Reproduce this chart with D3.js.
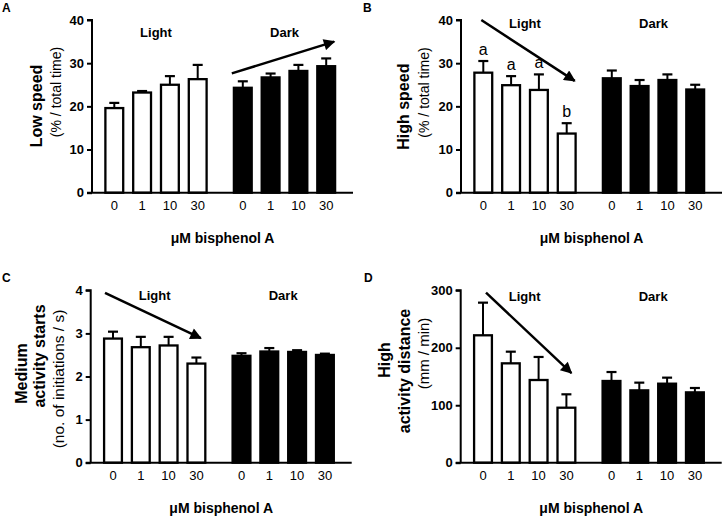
<!DOCTYPE html>
<html>
<head>
<meta charset="utf-8">
<script src="https://cdn.jsdelivr.net/npm/d3@7"></script>
<style>
  html, body { margin: 0; padding: 0; background: #fff; }
  svg { display: block; font-family: "Liberation Sans", Arial, Helvetica, sans-serif; }
</style>
</head>
<body>
<svg id="chart" width="723" height="516"></svg>
<script>
// ---------------- data ----------------
const doses = ["0", "1", "10", "30"];
const groups = ["Light", "Dark"];
const xAxisTitle = "μM bisphenol A";

// Panel A: Low speed (% / total time)
const lowSpeedLight    = [19.6, 23.2, 25.0, 26.3];
const lowSpeedLightErr = [1.2, 0.35, 2.0, 3.3];
const lowSpeedDark     = [24.3, 26.7, 28.2, 29.3];
const lowSpeedDarkErr  = [1.5, 0.9, 1.4, 1.8];
const ticksA = [0, 10, 20, 30, 40];

// Panel B: High speed (% / total time)
const highSpeedLight    = [27.8, 24.9, 23.8, 13.7];
const highSpeedLightErr = [2.7, 2.1, 3.6, 2.4];
const highSpeedDark     = [26.5, 24.7, 26.1, 23.9];
const highSpeedDarkErr  = [1.8, 1.4, 1.3, 1.1];
const highSpeedLetters  = ["a", "a", "a", "b"];
const ticksB = [0, 10, 20, 30, 40];

// Panel C: Medium activity starts (no. of initiations / s)
const startsLight    = [2.88, 2.68, 2.72, 2.30];
const startsLightErr = [0.16, 0.24, 0.20, 0.14];
const startsDark     = [2.48, 2.58, 2.57, 2.50];
const startsDarkErr  = [0.06, 0.08, 0.04, 0.03];
const ticksC = [0, 1, 2, 3, 4];

// Panel D: High activity distance (mm / min)
const distLight    = [221.7, 172.9, 143.9, 95.7];
const distLightErr = [56.8, 20.3, 40.1, 23.3];
const distDark     = [142.2, 125.9, 137.5, 122.4];
const distDarkErr  = [15.6, 13.4, 10.5, 7.6];
const ticksD = [0, 100, 200, 300];

// Trend arrows: [group, dose, offset in bar widths, value] start -> end
const arrowA = [["Dark", "0", -0.55, 27.65], ["Dark", "30", 0.4, 35.0]];
const arrowB = [["Light", "0", -0.1, 40.0], ["Light", "30", 0.4, 25.9]];
const arrowC = [["Light", "0", -0.4, 3.94], ["Light", "30", 0.22, 2.89]];
const arrowD = [["Light", "0", 0.15, 295.8], ["Light", "30", 0.25, 156]];

// ---------------- layout ----------------
const panels = [
  { letter: "A", lx: 2, ly: 11.5, axisX: 92, top: 20, bottom: 192.7, max: 40, ticks: ticksA,
    light: lowSpeedLight, lightErr: lowSpeedLightErr, dark: lowSpeedDark, darkErr: lowSpeedDarkErr,
    arrow: arrowA, groupLabelDy: 17,
    ylab: [ { t: "Low speed", bold: true, size: 16, dx: -50, cy: 106 },
            { t: "(% / total time)", bold: false, size: 14, dx: -31, cy: 92 } ] },
  { letter: "B", lx: 363, ly: 11.5, axisX: 461, top: 20, bottom: 192.7, max: 40, ticks: ticksB,
    light: highSpeedLight, lightErr: highSpeedLightErr, dark: highSpeedDark, darkErr: highSpeedDarkErr,
    arrow: arrowB, groupLabelDy: 8, letters: highSpeedLetters,
    ylab: [ { t: "High speed", bold: true, size: 16, dx: -52.5, cy: 106.7 },
            { t: "(% / total time)", bold: false, size: 14, dx: -32, cy: 92.5 } ] },
  { letter: "C", lx: 2, ly: 281.5, axisX: 90.7, top: 290.3, bottom: 462.7, max: 4, ticks: ticksC,
    light: startsLight, lightErr: startsLightErr, dark: startsDark, darkErr: startsDarkErr,
    arrow: arrowC, groupLabelDy: 10,
    ylab: [ { t: "Medium", bold: true, size: 16, dx: -64, cy: 373.5 },
            { t: "activity starts", bold: true, size: 16, dx: -46, cy: 356 },
            { t: "(no. of initiations / s)", bold: false, size: 15.5, dx: -27, cy: 379 } ] },
  { letter: "D", lx: 364, ly: 281.5, axisX: 460.7, top: 290.3, bottom: 462.7, max: 300, ticks: ticksD,
    light: distLight, lightErr: distLightErr, dark: distDark, darkErr: distDarkErr,
    arrow: arrowD, groupLabelDy: 11,
    ylab: [ { t: "High", bold: true, size: 16, dx: -71, cy: 360 },
            { t: "activity distance", bold: true, size: 16, dx: -51, cy: 371 },
            { t: "(mm / min)", bold: false, size: 15, dx: -32, cy: 353.5 } ] }
];

const plotW = 261;
const svg = d3.select("#chart");

svg.append("defs").append("marker")
  .attr("id", "head").attr("viewBox", "0 0 10 10")
  .attr("refX", 9).attr("refY", 5)
  .attr("markerWidth", 5.4).attr("markerHeight", 4.6)
  .attr("markerUnits", "strokeWidth").attr("orient", "auto")
  .append("path").attr("d", "M0,0 L10,5 L0,10 Z").attr("fill", "#000");

panels.forEach(p => {
  const g = svg.append("g");
  const x0 = p.axisX;
  const gx = d3.scalePoint().domain(groups).range([x0 + 64, x0 + 192.5]);
  const bx = d3.scaleBand().domain(doses).range([-55.6, 55.6]).paddingInner(0.28).paddingOuter(0.14);
  const y = d3.scaleLinear().domain([0, p.max]).range([p.bottom, p.top]);
  const bw = bx.bandwidth();
  const cx = (grp, d) => gx(grp) + bx(d) + bw / 2;

  // panel letter
  g.append("text").attr("x", p.lx).attr("y", p.ly)
    .attr("font-size", 12).attr("font-weight", "bold").text(p.letter);

  // bars
  const rows = [];
  groups.forEach(grp => doses.forEach((d, i) => {
    const v = grp === "Light" ? p.light[i] : p.dark[i];
    const e = grp === "Light" ? p.lightErr[i] : p.darkErr[i];
    rows.push({ grp, d, v, e, i });
  }));

  // error bars (upper only)
  g.selectAll(".err").data(rows).join("line")
    .attr("x1", r => cx(r.grp, r.d)).attr("x2", r => cx(r.grp, r.d))
    .attr("y1", r => y(r.v)).attr("y2", r => y(r.v + r.e))
    .attr("stroke", "#000").attr("stroke-width", 2);
  g.selectAll(".cap").data(rows).join("line")
    .attr("x1", r => cx(r.grp, r.d) - 5).attr("x2", r => cx(r.grp, r.d) + 5)
    .attr("y1", r => y(r.v + r.e)).attr("y2", r => y(r.v + r.e))
    .attr("stroke", "#000").attr("stroke-width", 2.2);

  g.selectAll(".bar").data(rows).join("rect")
    .attr("x", r => gx(r.grp) + bx(r.d) + 1.1)
    .attr("width", bw - 2.2)
    .attr("y", r => y(r.v))
    .attr("height", r => y(0) - y(r.v))
    .attr("fill", r => r.grp === "Light" ? "#fff" : "#000")
    .attr("stroke", "#000").attr("stroke-width", 2.3);

  // significance letters
  if (p.letters) {
    g.selectAll(".sig").data(rows.filter(r => r.grp === "Light")).join("text")
      .attr("x", r => cx(r.grp, r.d)).attr("y", r => y(r.v + r.e) - 6)
      .attr("text-anchor", "middle").attr("font-size", 16)
      .text(r => p.letters[r.i]);
  }

  // y axis
  const yAxis = d3.axisLeft(y).tickValues(p.ticks).tickSize(5).tickPadding(3).tickFormat(d3.format("d"));
  const ya = g.append("g").attr("transform", `translate(${x0},0)`).call(yAxis);
  ya.select(".domain").attr("stroke-width", 2).attr("d", `M-5,${p.top}H0V${p.bottom}`);
  ya.selectAll(".tick line").attr("stroke-width", 2);
  ya.selectAll(".tick text").attr("font-size", 13).attr("font-weight", "bold")
    .attr("font-family", "'Liberation Sans', Arial, sans-serif").attr("fill", "#000");

  // x axis baseline
  g.append("line").attr("x1", x0 - 5).attr("x2", x0 + plotW)
    .attr("y1", y(0)).attr("y2", y(0)).attr("stroke", "#000").attr("stroke-width", 2);

  // x tick labels
  g.selectAll(".xt").data(rows).join("text")
    .attr("x", r => cx(r.grp, r.d)).attr("y", y(0) + 17)
    .attr("text-anchor", "middle").attr("font-size", 13).text(r => r.d);

  // x axis title
  g.append("text").attr("x", x0 + plotW / 2).attr("y", y(0) + 50)
    .attr("text-anchor", "middle").attr("font-size", 14).attr("font-weight", "bold")
    .text(xAxisTitle);

  // group labels
  g.selectAll(".gl").data(groups).join("text")
    .attr("x", d => gx(d)).attr("y", p.top + p.groupLabelDy)
    .attr("text-anchor", "middle").attr("font-size", 13).attr("font-weight", "bold")
    .text(d => d);

  // y labels
  p.ylab.forEach(l => {
    g.append("text")
      .attr("transform", `translate(${x0 + l.dx},${l.cy}) rotate(-90)`)
      .attr("text-anchor", "middle").attr("font-size", l.size)
      .attr("font-weight", l.bold ? "bold" : "normal").text(l.t);
  });

  // trend arrow
  const [s, e] = p.arrow;
  g.append("line")
    .attr("x1", cx(s[0], s[1]) + s[2] * bw).attr("y1", y(s[3]))
    .attr("x2", cx(e[0], e[1]) + e[2] * bw).attr("y2", y(e[3]))
    .attr("stroke", "#000").attr("stroke-width", 2.5)
    .attr("marker-end", "url(#head)");
});
</script>
</body>
</html>
